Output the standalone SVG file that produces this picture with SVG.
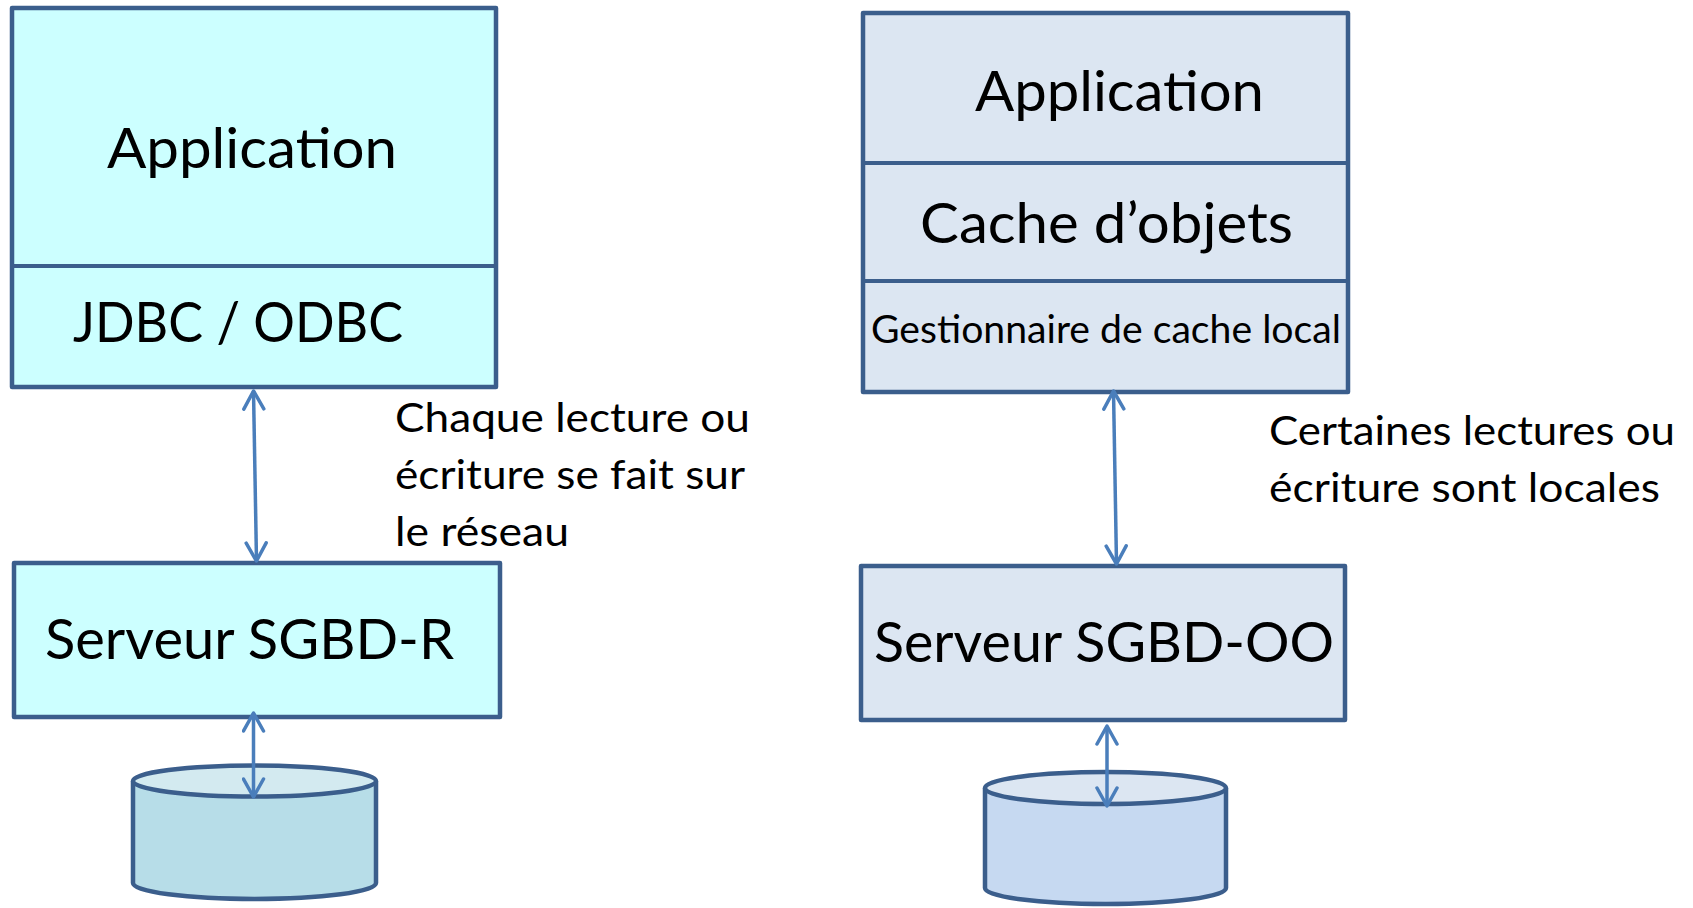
<svg xmlns="http://www.w3.org/2000/svg" width="1693" height="908" viewBox="0 0 1693 908">
  <defs>
    <style>
      .box { stroke: #3B5E8C; stroke-width: 4.5; stroke-linejoin: round; }
      .sep { stroke: #3B5E8C; stroke-width: 4; fill: none; }
      .cyan { fill: #CCFFFF; }
      .pale { fill: #DCE6F2; }
      .label { font-family: Lato, "Open Sans", "Liberation Sans", sans-serif; fill: #000; }
      .big { font-size: 56px; }
      .note { font-size: 40px; }
      .small { font-size: 38px; }
      .link { stroke: #4A7EBB; stroke-width: 3.5; fill: none; marker-start: url(#head); marker-end: url(#head); }
      .drum { stroke: #3B5E8C; stroke-width: 4.5; }
    </style>
    <marker id="head" viewBox="-20 -12 24 24" refX="0" refY="0" markerWidth="24" markerHeight="24" markerUnits="userSpaceOnUse" orient="auto-start-reverse">
      <path d="M -18 -10 L 0 0 L -18 10" fill="none" stroke="#4A7EBB" stroke-width="3.5" stroke-linecap="round" stroke-linejoin="round"/>
    </marker>
  </defs>

  <rect width="1693" height="908" fill="#FFFFFF"/>

  <!-- Relational client stack -->
  <g id="client-r">
    <rect class="box cyan" x="12" y="8" width="484" height="379"/>
    <line class="sep" x1="12" y1="266" x2="496" y2="266"/>
    <text class="label big" x="107" y="168" textLength="290" lengthAdjust="spacingAndGlyphs">Application</text>
    <text class="label big" x="73" y="342" textLength="330" lengthAdjust="spacingAndGlyphs">JDBC / ODBC</text>
  </g>

  <g id="server-r">
    <rect class="box cyan" x="14" y="563" width="486" height="154"/>
    <text class="label big" x="45" y="659" textLength="409" lengthAdjust="spacingAndGlyphs">Serveur SGBD-R</text>
  </g>

  <g id="db-r">
    <path class="drum" fill="#B7DDE8" d="M 133 781 L 133 883 A 121.5 16 0 0 0 376 883 L 376 781"/>
    <ellipse class="drum" fill="#D3EAF0" cx="254.5" cy="781" rx="121.5" ry="15.5"/>
  </g>

  <g id="note-r">
    <text class="label note" x="395" y="432" textLength="355" lengthAdjust="spacingAndGlyphs">Chaque lecture ou</text>
    <text class="label note" x="395" y="489" textLength="350" lengthAdjust="spacingAndGlyphs">écriture se fait sur</text>
    <text class="label note" x="395" y="546" textLength="174" lengthAdjust="spacingAndGlyphs">le réseau</text>
  </g>

  <!-- Object client stack -->
  <g id="client-oo">
    <rect class="box pale" x="863" y="13" width="485" height="379"/>
    <line class="sep" x1="863" y1="163" x2="1348" y2="163"/>
    <line class="sep" x1="863" y1="281" x2="1348" y2="281"/>
    <text class="label big" x="975" y="111" textLength="289" lengthAdjust="spacingAndGlyphs">Application</text>
    <text class="label big" x="920" y="243" textLength="373" lengthAdjust="spacingAndGlyphs">Cache d’objets</text>
    <text class="label small" x="871" y="343" textLength="470" lengthAdjust="spacingAndGlyphs">Gestionnaire de cache local</text>
  </g>

  <g id="server-oo">
    <rect class="box pale" x="861" y="566" width="484" height="154"/>
    <text class="label big" x="874" y="662" textLength="460" lengthAdjust="spacingAndGlyphs">Serveur SGBD-OO</text>
  </g>

  <g id="db-oo">
    <path class="drum" fill="#C6D9F1" d="M 985 788 L 985 888 A 120.5 16 0 0 0 1226 888 L 1226 788"/>
    <ellipse class="drum" fill="#DCE6F2" cx="1105.5" cy="788" rx="120.5" ry="16"/>
  </g>

  <g id="note-oo">
    <text class="label note" x="1269" y="445" textLength="406" lengthAdjust="spacingAndGlyphs">Certaines lectures ou</text>
    <text class="label note" x="1269" y="502" textLength="391" lengthAdjust="spacingAndGlyphs">écriture sont locales</text>
  </g>

  <!-- Connectors -->
  <g id="connectors">
    <line class="link" x1="253.5" y1="391" x2="256.5" y2="561"/>
    <line class="link" x1="253.5" y1="713" x2="253.5" y2="797"/>
    <line class="link" x1="1113.5" y1="391" x2="1116.5" y2="564"/>
    <line class="link" x1="1107" y1="726" x2="1107" y2="806"/>
  </g>
</svg>
